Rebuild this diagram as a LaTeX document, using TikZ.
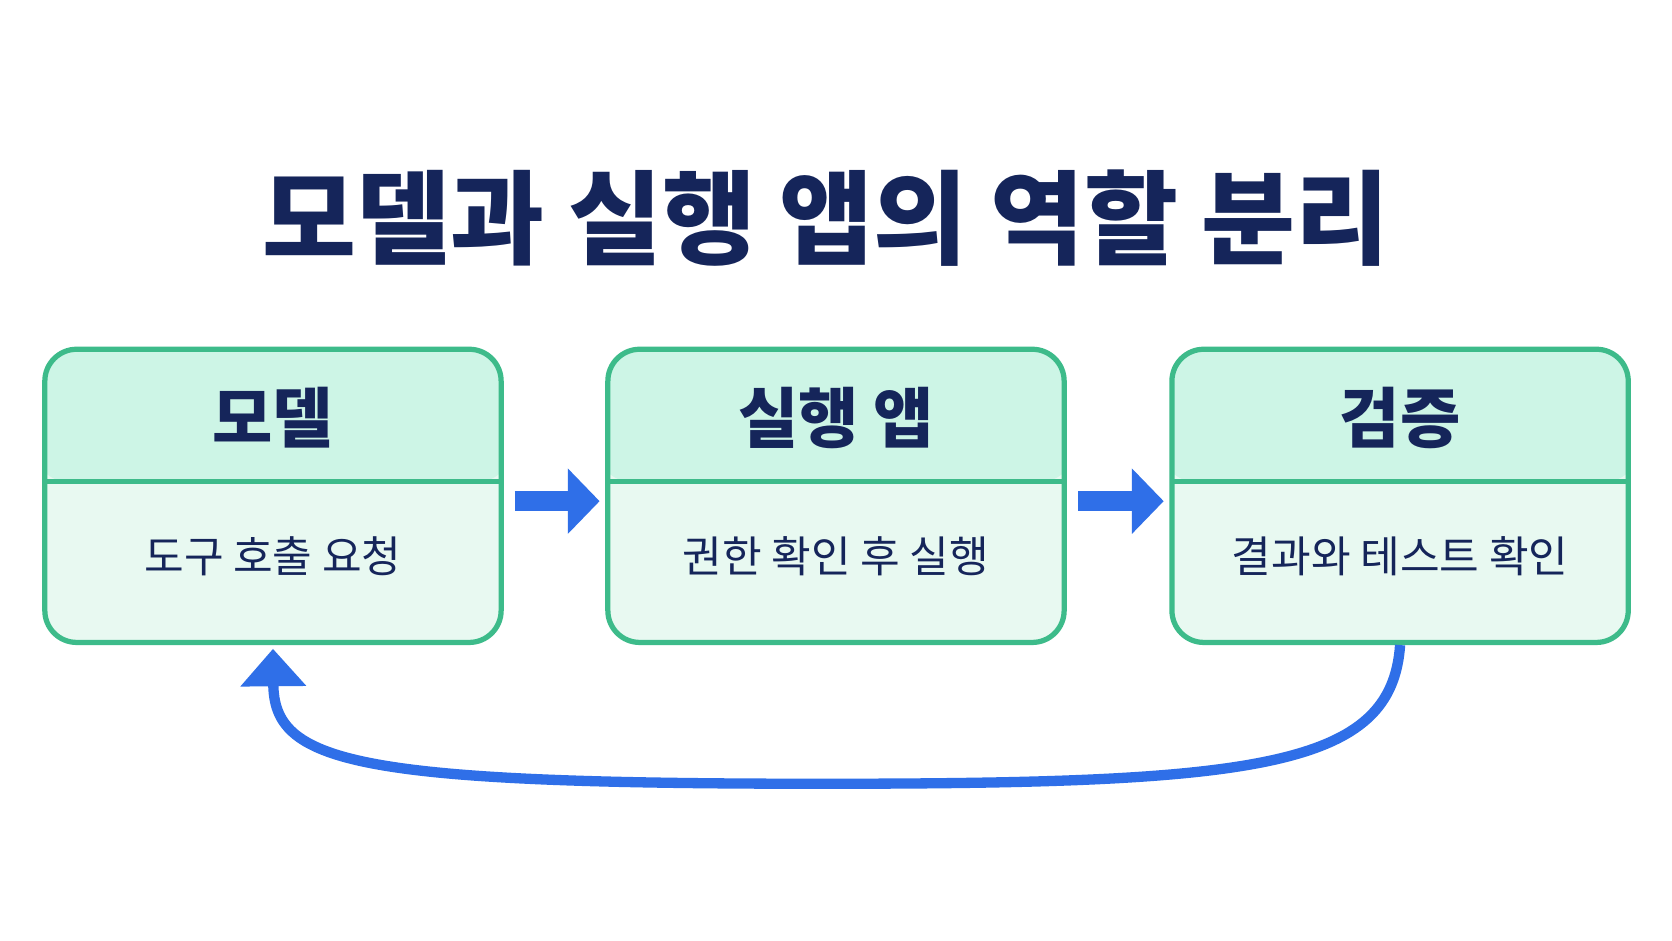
\documentclass[tikz,border=0pt]{standalone}
\usepackage{fontspec}
\setmainfont{Noto Sans CJK KR}
\usetikzlibrary{arrows.meta}
\definecolor{navy}{HTML}{15255A}
\definecolor{edgegreen}{HTML}{3DBB8A}
\definecolor{headgreen}{HTML}{CDF5E6}
\definecolor{bodygreen}{HTML}{E8F9F1}
\definecolor{flowblue}{HTML}{2F6FE8}
\begin{document}
\begin{tikzpicture}[x=0.02cm,y=-0.02cm]
    \tikzstyle{box}=[draw=edgegreen,line width=2.8pt,rounded corners=17pt,fill=bodygreen,
        minimum width=8.56cm,minimum height=5.5cm,inner sep=0pt,
        path picture={\fill[headgreen] ([xshift=-5pt]path picture bounding box.north west) rectangle
            ([yshift=-2.48cm,xshift=5pt]path picture bounding box.north east);
            \draw[edgegreen,line width=2.8pt] ([yshift=-2.48cm,xshift=-5pt]path picture bounding box.north west) --
            ([yshift=-2.48cm,xshift=5pt]path picture bounding box.north east);}]
    \tikzstyle{head}=[text=navy,font=\fontsize{35}{40}\selectfont\bfseries]
    \tikzstyle{body}=[text=navy,font=\fontsize{23}{28}\selectfont]
    \tikzstyle{flow}=[draw=flowblue,line width=11pt,-{Triangle[length=17pt,width=34pt]}]
    \tikzstyle{back}=[draw=flowblue,line width=5.5pt,-{Triangle[length=20pt,width=34pt]}]

    \useasboundingbox[fill=white] (0,0) rectangle (1568,882);

    % Title
    \node[text=navy,font=\fontsize{54.5}{58}\selectfont\bfseries] (title) at (775,205) {모델과 실행 앱의 역할 분리};

    % The three boxes
    \node[box] (model) at (256,465) {};
    \node[box] (app) at (784,465) {};
    \node[box] (check) at (1313,465) {};

    \node[head] at (256,392) {모델};
    \node[head] at (784,392) {실행 앱};
    \node[head] at (1313,392) {검증};
    \node[body] at (256,522) {도구 호출 요청};
    \node[body] at (784,522) {권한 확인 후 실행};
    \node[body] at (1313,522) {결과와 테스트 확인};

    % Forward arrows
    \draw[flow,shorten <=6pt,shorten >=3pt] (model.east |- 0,470) -- (app.west |- 0,470);
    \draw[flow,shorten <=6pt,shorten >=3pt] (app.east |- 0,470) -- (check.west |- 0,470);

    % Feedback loop
    \draw[back] (check.south) .. controls (1305,720) and (1180,735) .. (770,735)
        .. controls (330,735) and (257,715) .. ([yshift=-2pt]model.south);
\end{tikzpicture}
\end{document}
